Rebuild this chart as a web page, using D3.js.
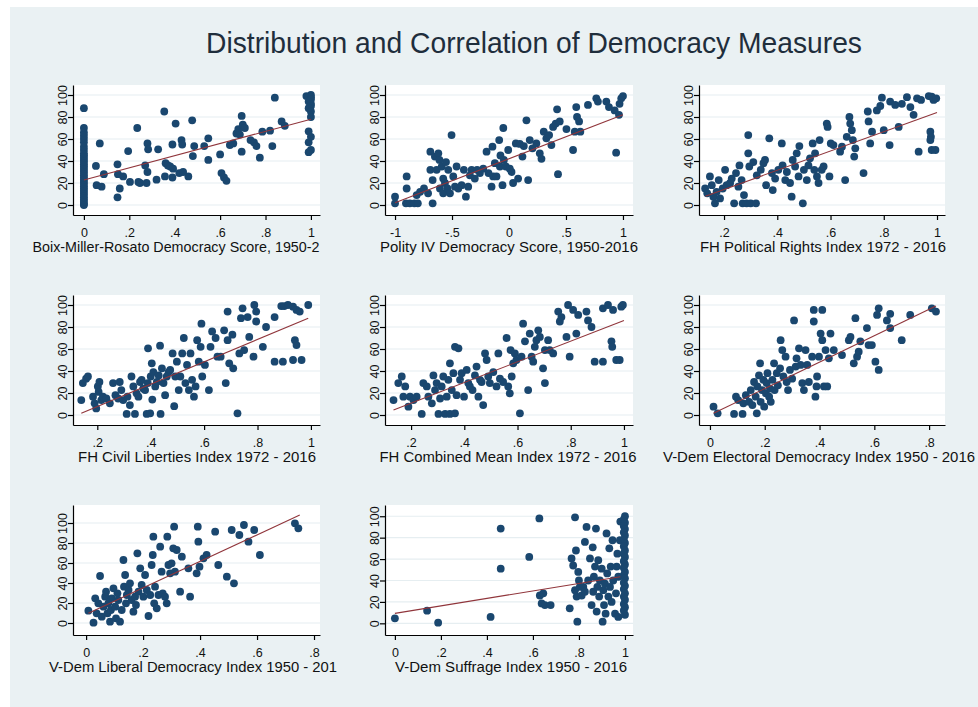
<!DOCTYPE html>
<html>
<head>
<meta charset="utf-8">
<script src="https://cdnjs.cloudflare.com/ajax/libs/d3/7.8.5/d3.min.js"></script>
<style>
  body { margin: 0; background: #fff; }
  svg text { font-family: "Liberation Sans", Arial, sans-serif; }
</style>
</head>
<body>
<svg id="chart"></svg>
<script>
// ---- data ----
const mainTitle = "Distribution and Correlation of Democracy Measures";

const axisTitles = [
  "Boix-Miller-Rosato Democracy Score, 1950-2",
  "Polity IV Democracy Score, 1950-2016",
  "FH Political Rights Index 1972 - 2016",
  "FH Civil Liberties Index 1972 - 2016",
  "FH Combined Mean Index 1972 - 2016",
  "V-Dem Electoral Democracy Index 1950 - 2016",
  "V-Dem Liberal Democracy Index 1950 - 201",
  "V-Dem Suffrage Index 1950 - 2016"
];

const yTicks = [0, 20, 40, 60, 80, 100];

const xTicks = [
  [0, .2, .4, .6, .8, 1],
  [-1, -.5, 0, .5, 1],
  [.2, .4, .6, .8, 1],
  [.2, .4, .6, .8, 1],
  [.2, .4, .6, .8, 1],
  [0, .2, .4, .6, .8],
  [0, .2, .4, .6, .8],
  [0, .2, .4, .6, .8, 1]
];
const xTickLabels = [
  ["0", ".2", ".4", ".6", ".8", "1"],
  ["-1", "-.5", "0", ".5", "1"],
  [".2", ".4", ".6", ".8", "1"],
  [".2", ".4", ".6", ".8", "1"],
  [".2", ".4", ".6", ".8", "1"],
  ["0", ".2", ".4", ".6", ".8"],
  ["0", ".2", ".4", ".6", ".8"],
  ["0", ".2", ".4", ".6", ".8", "1"]
];

const bmrPoints = [
  [0,0],[0,1],[0,3],[0,5],[0,7],[0,9],[0,11],[0,13],[0,15],[0,17],[0,19],[0,21],[0,23],[0,25],
  [0,27],[0,29],[0,31],[0,33],[0,35],[0,37],[0,39],[0,41],[0,43],[0,45],[0,47],[0,50],[0,53],
  [0,57],[0,60],[0,63],[0,66],[0,70],[0,88],
  [.053,35.5],[.07,56],[.056,18],[.078,16.7],[.088,28],[.148,37],[.15,28],[.158,15],[.148,7],
  [.173,26],[.195,49],[.203,21],[.235,70],[.24,21],[.247,20],[.27,36],[.276,20],[.28,30],
  [.28,56],[.283,50.6],[.32,23],[.327,50.6],[.354,85],[.357,26],[.36,38],[.37,36],[.38,35],
  [.39,25],[.393,33],[.39,55],[.404,74],[.42,29],[.43,59],[.433,55],[.437,30],[.46,26],
  [.477,77],[.48,44.5],[.486,53.6],[.53,53.6],[.548,60.6],[.548,41],[.6,46],[.606,29],
  [.617,25],[.628,22],[.643,54.5],[.658,56],[.672,65],[.68,69],[.687,64],[.695,81],[.7,73],
  [.695,48.5],[.709,70],[.734,59],[.749,57],[.76,53.6],[.775,43],[.786,66.7],[.82,67.6],
  [.83,53.6],[.841,97.6],[.871,76],[.885,72],
  [1,100],[.98,99],[1,98],[1,96],[.99,94],[1,92],[1,90],[.99,88],[1,85],[1,80],[.99,67],
  [1,62],[.99,57],[1,50],[.99,48]
];

const polityPoints = [
  [-1,7.6],[-1,1.5],[-.904,1.5],[-.898,15],[-.898,26],[-.87,1.5],[-.83,1.5],[-.8,1.5],
  [-.81,9],[-.78,12],[-.746,15],[-.71,10.6],[-.69,48.5],[-.69,32],[-.67,1.5],[-.67,22.7],
  [-.65,44],[-.635,32],[-.62,47],[-.61,41],[-.606,15],[-.59,35],[-.577,24],[-.577,10.6],
  [-.562,20],[-.553,39],[-.54,15],[-.533,32],[-.518,10.6],[-.504,63.6],[-.489,26],
  [-.474,16.7],[-.46,35],[-.445,15],[-.416,18],[-.396,32],[-.378,7.6],[-.358,16.7],
  [-.343,27],[-.328,32],[-.3,24],[-.28,32],[-.255,29],[-.226,33],[-.197,48.5],[-.18,29],
  [-.153,16.7],[-.145,53],[-.139,26],[-.124,38],[-.11,26],[-.086,59],[-.08,35],[-.075,45],
  [-.057,18],[-.05,70],[-.045,41],[-.028,35],[-.007,50],[.007,33],[.022,30],[.036,20],
  [.06,56],[.08,24],[.095,55.5],[.118,44],[.13,53.6],[.153,77],[.168,22.7],[.182,59],
  [.206,51.5],[.24,56],[.27,47],[.285,42],[.305,66.7],[.328,60.6],[.352,63.6],[.372,54.5],
  [.387,71],[.41,74],[.422,87],[.43,28],[.445,76],[.504,69],[.562,50],[.577,66.7],[.59,89],
  [.597,80],[.615,76],[.626,66.7],[.693,91],[.766,97],[.78,94],[.854,94],[.877,89],
  [.927,86],[.94,47.6],[.965,82],[.97,92],[.985,97],[1,99]
];

const fhprPoints = [
  [.129,15],[.137,10.6],[.147,26],[.154,18],[.16,7.6],[.166,1.5],[.172,12],[.18,22.7],
  [.185,6],[.195,15],[.204,32],[.21,18],[.223,20],[.229,24],[.238,1.5],[.245,29],[.254,16.7],
  [.258,36],[.266,22.7],[.27,1.5],[.275,9],[.285,1.5],[.291,63.6],[.291,47],[.295,35],
  [.3,1.5],[.31,39],[.32,1.5],[.323,27],[.338,32],[.348,38],[.354,41],[.358,18],[.37,60.6],
  [.38,29],[.383,13.6],[.392,24],[.404,32],[.417,56],[.42,36],[.43,22.7],[.436,30],[.448,20],
  [.454,7.6],[.458,41],[.467,35],[.473,47],[.48,26],[.483,53.6],[.496,1.5],[.5,32],
  [.511,22.7],[.517,36],[.523,42.4],[.533,56],[.539,32],[.542,47],[.549,26],[.555,20],
  [.559,59],[.567,32],[.574,35],[.586,74],[.589,71],[.596,26],[.601,56],[.611,54.5],
  [.636,48.5],[.643,53],[.655,22.7],[.661,62],[.671,80],[.674,74],[.68,68],[.684,59],
  [.689,44],[.693,51.5],[.724,29],[.74,85],[.743,76],[.749,56],[.756,66.7],[.774,86],
  [.787,90],[.793,97.6],[.8,68],[.822,54.5],[.824,94],[.843,91],[.856,71],[.868,92],
  [.887,98],[.9,89],[.912,82],[.925,97],[.931,48.5],[.94,95.5],[.969,99],[.98,98.5],
  [.987,95.5],[.975,66.7],[.977,62],[.975,59],[.98,50],[.994,50],[.997,97]
];

const fhclPoints = [
  [.14,13.6],[.146,29],[.158,33],[.165,35],[.184,16.7],[.19,10.6],[.196,6],[.202,26],
  [.205,21],[.208,30],[.215,13.6],[.221,16.7],[.234,15],[.247,10.6],[.259,29],[.268,18],
  [.278,15],[.284,30],[.29,22.7],[.297,13.6],[.31,1],[.313,16.7],[.322,9],[.328,35],
  [.335,26],[.341,1],[.347,19.7],[.354,16.7],[.36,30],[.366,32],[.372,24],[.379,22.7],
  [.385,1],[.389,29],[.39,60.6],[.398,1.5],[.4,35],[.404,47],[.406,14],[.41,39],[.417,26],
  [.423,30],[.43,36],[.435,63],[.437,1],[.442,42.4],[.448,29],[.454,18],[.46,35],[.467,39],
  [.473,41],[.482,56],[.488,8],[.492,35],[.498,48.5],[.505,22.7],[.511,35],[.518,56],
  [.524,70],[.53,29],[.536,45.5],[.543,22.7],[.549,56],[.555,32],[.562,16.7],[.568,26],
  [.574,68],[.58,48.5],[.587,62],[.59,83],[.593,35],[.603,45.5],[.618,22.7],[.624,62],
  [.63,76],[.643,70],[.65,53],[.662,53],[.675,77],[.681,29],[.688,94],[.688,68],[.694,47],
  [.706,73],[.709,42.4],[.725,1.5],[.732,56],[.738,88],[.744,97],[.75,59],[.763,89],
  [.769,71],[.785,53],[.788,100],[.795,94],[.795,85],[.82,62],[.832,80],[.864,89],
  [.864,48.5],[.889,99],[.895,48.5],[.9,99],[.914,100],[.933,98.5],[.94,68],[.946,63.6],
  [.946,95.5],[.958,94],[.933,50],[.965,50],[.99,100]
];

const fhcmPoints = [
  [.134,13.6],[.152,29],[.165,35],[.171,16.7],[.178,26],[.19,7.6],[.196,16.7],[.209,13.6],
  [.221,16.7],[.24,1],[.246,29],[.259,26],[.265,16.7],[.278,10.6],[.284,36],[.29,22.7],
  [.296,29],[.303,1],[.309,15],[.315,26],[.321,35],[.328,1],[.334,16.7],[.34,32],[.346,47],
  [.346,1],[.353,22.7],[.359,38],[.365,1.5],[.365,62],[.371,18],[.378,60.6],[.384,32],
  [.39,38],[.399,16.7],[.409,41],[.415,29],[.421,26],[.431,22.7],[.44,36],[.446,44],
  [.453,16.7],[.459,32],[.465,30],[.471,9],[.478,56],[.484,50],[.49,35],[.496,29],[.509,39],
  [.521,26],[.528,56],[.534,33],[.546,30],[.559,70],[.565,26],[.571,19.7],[.574,59],
  [.578,35],[.584,47],[.59,56],[.596,50],[.609,1.5],[.615,53],[.621,83],[.628,67],
  [.64,22.7],[.646,74],[.653,53],[.659,48.5],[.665,62],[.671,68],[.678,77],[.684,71],
  [.696,42.4],[.703,59],[.703,29],[.715,68],[.721,59],[.734,56],[.753,94],[.759,85],
  [.765,89],[.784,71],[.79,100],[.796,53],[.809,95.5],[.821,74],[.828,91],[.859,94],
  [.865,86],[.878,80],[.89,48.5],[.921,48.5],[.921,97],[.94,100],[.953,67],[.956,62],
  [.959,95.5],[.971,50],[.984,50],[.99,98.5],[.996,100]
];

const vdemElecPoints = [
  [.013,7.6],[.028,1.5],[.088,1],[.095,16.7],[.103,13.6],[.119,1],[.122,10.6],[.131,18],
  [.143,12],[.149,22.7],[.155,9],[.161,30],[.167,16.7],[.171,1.5],[.173,26],[.179,36],
  [.183,47],[.185,12],[.19,22.7],[.195,32],[.198,7.6],[.204,19.7],[.207,29],[.21,38],
  [.216,16.7],[.219,24],[.222,12],[.228,32],[.234,47],[.236,22.7],[.244,38],[.248,27],
  [.256,42.4],[.258,68],[.264,59],[.268,35],[.276,53],[.28,30],[.285,22.7],[.292,41],
  [.3,33],[.307,86],[.313,44],[.316,51.5],[.325,60.6],[.331,45.5],[.337,29],[.343,22.7],
  [.349,59],[.355,45.5],[.361,30],[.373,53],[.379,95.5],[.379,85],[.385,16.7],[.389,26],
  [.391,35],[.398,53],[.404,74],[.41,95.5],[.41,68],[.416,26],[.422,59],[.428,26],
  [.434,51.5],[.44,74],[.452,59],[.482,54.5],[.507,68],[.513,71],[.525,47],[.531,88],
  [.537,53],[.543,57.5],[.549,67],[.573,79],[.579,63.6],[.591,63.6],[.604,48.5],[.61,91],
  [.616,97],[.616,41],[.646,86],[.658,92],[.658,79],[.7,68],[.731,91],[.81,97],[.825,94]
];

const vdemLibPoints = [
  [.008,12.3],[.026,.3],[.032,24.7],[.037,9.7],[.043,19.7],[.049,47],[.055,6.3],[.061,16.3],
  [.067,26.3],[.07,31.3],[.075,9.7],[.078,19.7],[.084,1.3],[.087,13],[.09,24.7],[.096,34.7],
  [.102,16.3],[.105,4.7],[.11,29.7],[.113,23],[.119,1.3],[.125,13],[.131,63],[.133,36.3],
  [.137,48],[.14,19.7],[.143,28],[.149,33],[.154,39.7],[.16,23],[.166,11.3],[.172,26.3],
  [.175,18],[.18,69.7],[.184,31.3],[.19,54.7],[.195,38],[.201,26.3],[.207,48],[.213,33],
  [.219,7],[.225,28],[.23,58],[.234,68],[.236,86.3],[.239,19.7],[.242,36.3],[.248,14.7],
  [.254,28],[.26,76.3],[.265,51.3],[.269,29.7],[.277,26.3],[.283,19.7],[.285,86.3],[.289,58],
  [.295,49.7],[.3,59.7],[.306,74.7],[.309,96.3],[.312,51.3],[.318,73],[.336,66.3],[.33,31.3],
  [.359,54.7],[.365,26.3],[.388,49.7],[.392,96.3],[.394,81.3],[.398,56.3],[.412,64.7],
  [.423,68],[.453,91.3],[.464,58],[.494,46.3],[.511,93],[.519,39.7],[.538,88],[.554,98],
  [.57,81.3],[.59,93],[.61,68],[.733,99.7],[.745,94.7]
];

const vdemSuffPoints = [
  [0,4.7],[.14,11.8],[.188,.6],[.416,6],[.46,88.5],[.46,51],[.584,62],[.628,98],[.63,26],
  [.638,18.6],[.645,28],[.652,17],[.677,17],[.76,14],[.768,60.6],[.775,54],[.783,99],
  [.783,31],[.787,68],[.79,25],[.793,1.5],[.797,48],[.8,40],[.804,34],[.812,26],[.819,34],
  [.826,29.5],[.826,76],[.833,90],[.84,40],[.848,60.6],[.855,17],[.86,71],[.862,29.5],
  [.865,43.5],[.87,53],[.874,88.5],[.877,11],[.88,34],[.884,59],[.888,25],[.891,40],
  [.899,51],[.903,1.5],[.906,31],[.909,17],[.913,37],[.916,9],[.92,84],[.923,46.6],
  [.928,25],[.932,70],[.935,34],[.938,53],[.942,20],[.946,77.6],[.949,40],[.957,9],
  [.961,28],[.964,53],[.967,65],[.971,43.5],[.971,6],[.98,95],[.978,77.6],
  [1,100],[.995,97],[1,94],[.995,91],[1,88],[.995,85],[1,82],[.995,78],[1,75],[.995,72],
  [1,68],[.995,65],[1,62],[.995,58],[1,55],[.995,52],[1,48],[.995,45],[1,42],[.995,38],
  [1,35],[.995,32],[1,28],[.995,25],[1,22],[.995,18],[1,15],[.995,12],[1,8]
];

// fitted lines (start and end)
const fitLines = [
  [[0, 22.7], [1, 78]],
  [[-1, 2], [1, 82]],
  [[.13, 8], [1, 84]],
  [[.14, 1.5], [.99, 88]],
  [[.134, 4.5], [1, 86]],
  [[.013, 1.5], [.825, 99]],
  [[.008, 9.7], [.75, 108]],
  [[0, 9.3], [.98, 43.5]]
];

const panelPoints = [bmrPoints, polityPoints, fhprPoints, fhclPoints, fhcmPoints,
                     vdemElecPoints, vdemLibPoints, vdemSuffPoints];

// ---- layout ----
const width = 978, height = 707;
const cols = [{left: 73, right: 320}, {left: 385, right: 633}, {left: 699, right: 945}];
const rows = [{top: 85, bottom: 215}, {top: 295, bottom: 425}, {top: 505, bottom: 635}];

const panels = [
  {col: 0, row: 0, xDomain: [-0.048, 1.04], yDomain: [-9.09, 109.09], tx: 176, tw: 287},
  {col: 1, row: 0, xDomain: [-1.088, 1.088], yDomain: [-9.09, 109.09], tx: 509, tw: 258},
  {col: 2, row: 0, xDomain: [0.106, 1.03], yDomain: [-9.09, 109.09], tx: 823, tw: 246},
  {col: 0, row: 1, xDomain: [0.109, 1.034], yDomain: [-9.09, 109.09], tx: 197, tw: 238},
  {col: 1, row: 1, xDomain: [0.102, 1.034], yDomain: [-9.09, 109.09], tx: 508, tw: 257},
  {col: 2, row: 1, xDomain: [-0.04, 0.858], yDomain: [-9.09, 109.09], tx: 819, tw: 312},
  {col: 0, row: 2, xDomain: [-0.046, 0.821], yDomain: [-12, 118], tx: 193, tw: 288},
  {col: 1, row: 2, xDomain: [-0.043, 1.035], yDomain: [-10.9, 110.5], tx: 511, tw: 232}
];

const markerColor = '#1a476f';
const fitColor = '#90353b';

let svg = d3.select('#chart')
  .attr('width', width)
  .attr('height', height)
  .style('display', 'block');

svg.append('rect')
  .attr('x', 0).attr('y', 0).attr('width', width).attr('height', height)
  .attr('fill', '#fff');

svg.append('rect')
  .attr('x', 10).attr('y', 7).attr('width', width - 10).attr('height', height - 7)
  .attr('fill', '#eaf1f3');

svg.append('text')
  .attr('x', 534).attr('y', 53)
  .attr('text-anchor', 'middle')
  .attr('font-size', 29)
  .attr('fill', '#1f2e3c')
  .attr('textLength', 656)
  .attr('lengthAdjust', 'spacingAndGlyphs')
  .text(mainTitle);

panels.forEach(function(p, i) {
  let c = cols[p.col], r = rows[p.row];
  let xScale = d3.scaleLinear().domain(p.xDomain).range([c.left, c.right]);
  let yScale = d3.scaleLinear().domain(p.yDomain).range([r.bottom, r.top]);
  let g = svg.append('g');

  // plot region
  g.append('rect')
    .attr('x', c.left).attr('y', r.top)
    .attr('width', c.right - c.left).attr('height', r.bottom - r.top)
    .attr('fill', '#fff');

  // grid lines
  g.selectAll('.grid')
    .data(yTicks)
    .enter()
    .append('line')
    .attr('x1', c.left).attr('x2', c.right)
    .attr('y1', d => yScale(d)).attr('y2', d => yScale(d))
    .attr('stroke', '#e6eef1')
    .attr('stroke-width', 1.2);

  // points
  g.selectAll('circle')
    .data(panelPoints[i])
    .enter()
    .append('circle')
    .attr('cx', d => xScale(d[0]))
    .attr('cy', d => yScale(d[1]))
    .attr('r', 3.9)
    .attr('fill', markerColor);

  // fitted line
  g.append('path')
    .datum(fitLines[i])
    .attr('d', d3.line().x(d => xScale(d[0])).y(d => yScale(d[1])))
    .attr('fill', 'none')
    .attr('stroke', fitColor)
    .attr('stroke-width', 1.1);

  // y axis
  let yAxis = g.append('g')
    .attr('transform', `translate(${c.left}, 0)`)
    .call(d3.axisLeft(yScale).tickValues(yTicks).tickSize(5).tickSizeOuter(0).tickFormat(d3.format('d')));
  yAxis.selectAll('text')
    .attr('x', null).attr('dy', null)
    .attr('text-anchor', 'middle')
    .attr('transform', 'translate(-6,0) rotate(-90)');

  // x axis
  let xAxis = g.append('g')
    .attr('transform', `translate(0, ${r.bottom})`)
    .call(d3.axisBottom(xScale).tickValues(xTicks[i]).tickSize(5).tickSizeOuter(0)
      .tickFormat((d, k) => xTickLabels[i][k]));
  xAxis.selectAll('text').attr('y', 22).attr('dy', null);

  [yAxis, xAxis].forEach(function(ax) {
    ax.attr('font-family', null).attr('font-size', null);
    ax.selectAll('text').attr('font-size', 12.5).attr('fill', '#111');
    ax.selectAll('path, line').attr('stroke', '#000').attr('stroke-width', 1.2);
  });

  // axis title
  g.append('text')
    .attr('x', p.tx).attr('y', r.bottom + 37)
    .attr('text-anchor', 'middle')
    .attr('font-size', 14)
    .attr('fill', '#111')
    .attr('textLength', p.tw)
    .attr('lengthAdjust', 'spacingAndGlyphs')
    .text(axisTitles[i]);
});
</script>
</body>
</html>
